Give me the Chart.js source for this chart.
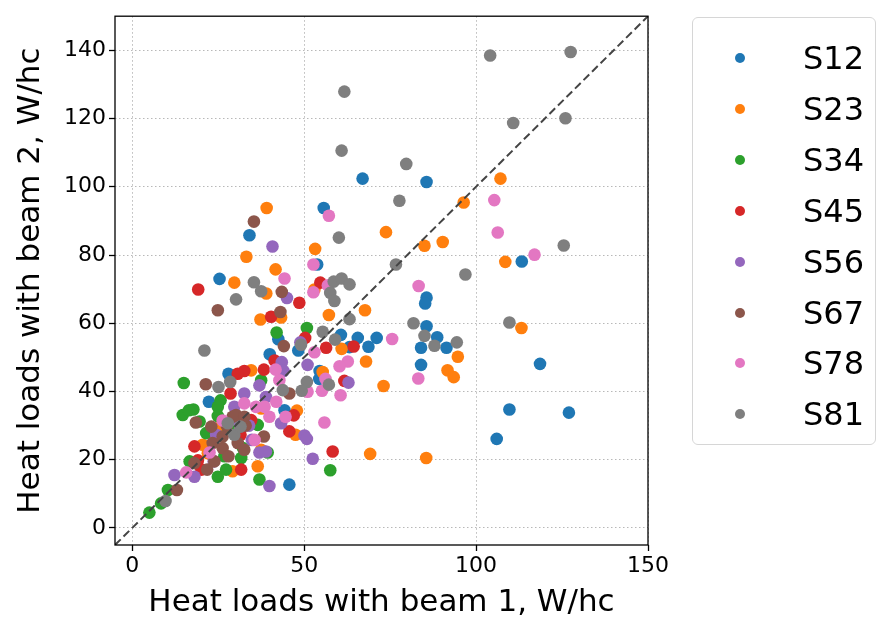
<!DOCTYPE html>
<html>
<head>
<meta charset="utf-8">
<script src="https://cdn.jsdelivr.net/npm/chart.js@4.4.1/dist/chart.umd.min.js"></script>
<style>
  body { margin: 0; background: #fff; }
  #wrap { position: relative; width: 878px; height: 624px; overflow: hidden; }
  #legend {
    position: absolute; left: 692px; top: 17px; width: 184px; height: 428px;
    border: 1.5px solid #d6d6d6; border-radius: 6px; box-sizing: border-box;
    font-family: 'DejaVu Sans'; font-size: 32px; color: #000;
  }
  .row { position: absolute; left: 0; height: 50px; line-height: 50px; }
  .dot { position: absolute; left: 42px; top: 20px; width: 10px; height: 10px; border-radius: 50%; }
  .lab { position: absolute; left: 110px; top: 0; white-space: nowrap; }
</style>
</head>
<body>
<div id="wrap">
  <canvas id="chart" width="878" height="624"></canvas>
  <div id="legend"></div>
</div>
<script>
// series names and colours (matplotlib tab10)
const names  = ['S12', 'S23', 'S34', 'S45', 'S56', 'S67', 'S78', 'S81'];
const colors = ['#1f77b4', '#ff7f0e', '#2ca02c', '#d62728', '#9467bd', '#8c564b', '#e377c2', '#7f7f7f'];

const xTicks = [0, 50, 100, 150];
const yTicks = [0, 20, 40, 60, 80, 100, 120, 140];
const diag   = [-5, 150];

// [beam 1, beam 2] heat loads, W/hc
const s12 = [[67.0,102.4],[85.6,101.4],[55.7,93.8],[53.8,77.2],[85.6,67.5],[85.2,65.8],[85.6,59.1],[60.7,56.6],
  [65.6,55.7],[71.1,55.7],[68.7,53.1],[88.7,55.9],[84.0,52.8],[91.4,52.8],[84.0,47.8],[48.3,52.0],[63.2,53.0],
  [113.3,78.1],[118.6,48.1],[109.7,34.7],[127.0,33.8],[106.0,26.1],[34.1,85.8],[25.4,73.0],[42.5,55.3],
  [40.0,50.9],[28.0,45.2],[22.3,37.0],[45.7,12.7],[54.4,43.7],[44.3,34.5],[54.5,46.0]];
const s23 = [[107.1,102.4],[96.4,95.4],[73.8,86.7],[85.0,82.7],[90.3,83.8],[53.2,81.8],[67.7,63.8],[57.2,62.4],
  [60.9,52.5],[94.7,50.2],[68.0,48.8],[91.7,46.2],[55.4,45.7],[53.0,69.9],[108.5,78.0],[113.2,58.6],[73.1,41.6],
  [93.5,44.2],[47.9,34.4],[69.2,21.7],[85.5,20.5],[47.5,27.3],[39.1,93.8],[33.2,79.5],[41.7,75.8],[29.7,71.9],
  [39.0,68.7],[37.3,61.1],[43.3,61.7],[34.6,46.2],[36.5,18.1],[29.2,16.6],[20.5,24.4],[37.5,35.0],[37.5,22.9],
  [22.0,21.9],[26.0,30.0]];
const s34 = [[42.0,57.3],[50.8,58.6],[57.6,16.9],[15.0,42.5],[17.8,34.7],[14.7,33.1],[19.6,31.2],[25.7,37.4],
  [24.9,35.5],[24.9,32.8],[21.5,27.8],[16.7,19.5],[24.9,15.0],[27.3,17.1],[31.7,20.5],[37.0,14.2],[10.4,11.1],
  [8.4,7.2],[5.0,4.5],[36.5,30.2],[39.4,22.1],[37.5,43.3],[32.2,23.4],[26.8,21.0],[16.5,34.5],[28.0,29.0]];
const s45 = [[19.2,69.9],[40.4,61.9],[41.4,49.1],[32.6,46.0],[38.3,46.4],[54.7,71.9],[48.6,66.0],[56.4,52.8],
  [64.4,53.2],[50.3,55.7],[58.3,22.4],[61.7,43.1],[18.1,23.9],[19.1,19.8],[20.1,17.1],[31.7,17.1],[34.6,31.6],
  [31.5,27.3],[45.7,28.3],[28.6,39.4],[30.7,45.2],[24.5,27.0],[47.0,33.0]];
const s56 = [[40.8,82.5],[45.0,67.4],[43.5,48.6],[50.1,27.1],[50.8,26.1],[52.5,20.3],[62.9,42.6],[51.0,47.8],
  [48.9,54.4],[39.9,12.3],[12.3,15.5],[18.1,15.0],[37.0,22.1],[38.9,22.4],[34.8,25.8],[37.0,41.8],[29.7,35.5],
  [32.6,39.4],[38.9,38.4],[43.3,30.7],[23.7,19.5],[24.4,27.3],[30.0,32.0],[34.0,30.0],[44.0,46.0]];
const s67 = [[35.4,89.8],[24.9,63.8],[43.5,69.2],[43.1,63.3],[44.1,53.3],[21.4,42.1],[18.5,30.9],[13.0,11.1],
  [23.0,29.7],[23.4,24.9],[23.9,19.5],[18.1,19.0],[21.8,17.1],[26.3,23.4],[29.2,32.6],[30.7,24.9],[32.6,22.9],
  [30.2,33.1],[32.6,32.6],[38.3,26.8],[45.7,39.4],[26.3,26.8],[27.5,30.0],[33.0,30.0],[28.0,21.0]];
const s78 = [[105.3,96.1],[106.3,86.6],[117.0,80.1],[57.2,91.5],[52.7,77.2],[52.7,69.1],[83.3,70.9],[56.9,71.1],
  [75.6,55.4],[62.7,48.8],[60.3,47.4],[53.0,51.5],[83.2,43.8],[55.9,30.9],[60.6,38.9],[55.2,40.2],[51.0,39.9],
  [56.2,43.7],[44.3,73.1],[41.7,46.4],[22.5,22.1],[15.7,16.3],[35.6,25.8],[26.3,31.5],[32.6,36.5],[36.0,35.5],
  [39.9,32.6],[44.6,32.6],[41.9,37.0],[38.5,35.5],[42.8,43.3]];
const s81 = [[104.1,138.5],[127.5,139.5],[61.7,127.9],[110.8,118.7],[126.0,120.1],[60.9,110.6],[79.7,106.7],
  [77.7,95.9],[60.1,85.1],[76.7,77.2],[96.9,74.3],[125.5,82.8],[58.6,72.2],[60.9,73.1],[63.2,71.4],[57.6,68.9],
  [58.8,66.5],[63.2,61.2],[81.8,60.0],[109.7,60.2],[85.0,56.3],[87.9,53.4],[94.4,54.4],[55.4,57.5],[59.0,55.2],
  [49.1,53.7],[50.8,42.8],[49.3,40.2],[57.2,42.0],[35.4,72.0],[37.5,69.4],[30.2,67.0],[21.0,52.0],[28.5,42.8],
  [25.1,41.3],[43.8,40.4],[27.8,30.7],[29.7,27.3],[31.5,29.7],[9.7,7.9]];

const series = [s12, s23, s34, s45, s56, s67, s78, s81];

Chart.defaults.font.family = 'DejaVu Sans';
Chart.defaults.color = '#000';

const datasets = series.map((pts, i) => ({
  label: names[i],
  data: pts.map(p => ({ x: p[0], y: p[1] })),
  backgroundColor: colors[i],
  borderWidth: 0,
  pointRadius: 6.3,
  pointHoverRadius: 6.3,
  order: names.length - i   // later series on top, like matplotlib
}));

// y = x reference
datasets.push({
  type: 'line',
  label: 'diag',
  data: diag.map(v => ({ x: v, y: v })),
  borderColor: '#444',
  borderWidth: 2,
  borderDash: [8, 4],
  pointRadius: 0,
  order: 0
});

// black frame round the plot area
const frame = {
  id: 'frame',
  afterDraw(chart) {
    const a = chart.chartArea, ctx = chart.ctx;
    ctx.save();
    ctx.strokeStyle = '#000';
    ctx.lineWidth = 1.3;
    ctx.strokeRect(a.left, a.top, a.right - a.left, a.bottom - a.top);
    ctx.restore();
  }
};

const grid = {
  color: '#b8b8b8',
  lineWidth: 1,
  tickColor: '#000',
  tickLength: 6,
  tickWidth: 1.3,
  tickBorderDash: []
};
// dotted grid lines (v4 puts the grid dash under border)
const border = { display: false, dash: [1.5, 2.5] };

new Chart(document.getElementById('chart'), {
  type: 'scatter',
  data: { datasets },
  plugins: [frame],
  options: {
    responsive: false,
    animation: false,
    layout: { padding: { top: 12, right: 230, left: 0, bottom: 0 } },
    plugins: { legend: { display: false }, tooltip: { enabled: false } },
    scales: {
      x: {
        type: 'linear', min: -5, max: 150,
        afterBuildTicks: s => { s.ticks = xTicks.map(v => ({ value: v })); },
        afterFit: s => { s.height = 79; },
        grid, border,
        ticks: { font: { size: 22 }, padding: 2, maxRotation: 0 },
        title: { display: true, text: 'Heat loads with beam 1, W/hc', font: { size: 31 }, padding: { top: 0, bottom: 2 } }
      },
      y: {
        type: 'linear', min: -5, max: 150,
        afterBuildTicks: s => { s.ticks = yTicks.map(v => ({ value: v })); },
        afterFit: s => { s.width = 115; },
        grid, border,
        ticks: { font: { size: 22 }, padding: 3 },
        title: { display: true, text: 'Heat loads with beam 2, W/hc', font: { size: 31 }, padding: { top: 12, bottom: 0 } }
      }
    }
  }
});

// legend box
const legend = document.getElementById('legend');
names.forEach((n, i) => {
  const row = document.createElement('div');
  row.className = 'row';
  row.style.top = (15 + i * 50.9) + 'px';
  row.innerHTML = '<span class="dot" style="background:' + colors[i] + '"></span><span class="lab">' + n + '</span>';
  legend.appendChild(row);
});
</script>
</body>
</html>
